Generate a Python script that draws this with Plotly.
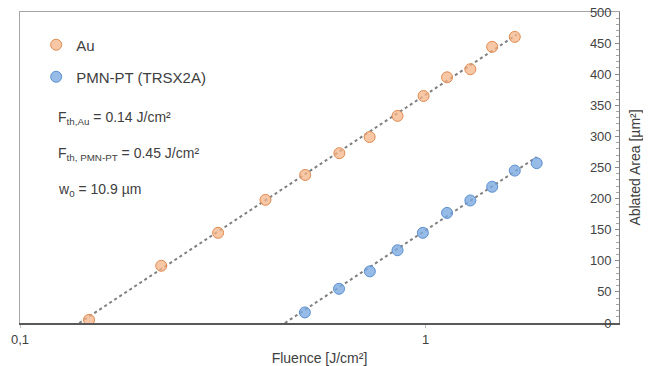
import numpy as np
import plotly.graph_objects as go

# Data
fluence_au = [0.148, 0.223, 0.308, 0.403, 0.505, 0.613, 0.728, 0.853, 0.989, 1.13, 1.29, 1.46, 1.66]
area_au = [5, 92, 145, 198, 238, 273, 299, 333, 365, 395, 408, 444, 460]
fluence_pmn = [0.504, 0.612, 0.729, 0.853, 0.985, 1.13, 1.29, 1.46, 1.66, 1.88]
area_pmn = [17, 55, 83, 117, 145, 177, 197, 219, 245, 257]

fth_au = 0.14
fth_pmn = 0.45
w0 = 10.9
xtick_vals = [0.1, 1]
xtick_text = ["0,1", "1"]

def fit_line(fth, fmax):
    f = np.geomspace(fth, fmax, 30)
    return f, np.pi * w0 ** 2 / 2 * np.log(f / fth)

FONT = "Liberation Sans, Arial, sans-serif"
TXT = "#404040"

fig = go.Figure()
fx, fy = fit_line(fth_au, 1.68)
fig.add_trace(go.Scatter(x=fx, y=fy, mode="lines", showlegend=False,
                         line=dict(color="#7f7f7f", width=2, dash="dot"), hoverinfo="skip"))
fx, fy = fit_line(fth_pmn, 1.88)
fig.add_trace(go.Scatter(x=fx, y=fy, mode="lines", showlegend=False,
                         line=dict(color="#7f7f7f", width=2, dash="dot"), hoverinfo="skip"))

fig.add_trace(go.Scatter(x=fluence_au, y=area_au, mode="markers", name="Au",
                         marker=dict(size=11, color="rgba(245,180,135,0.75)",
                                     line=dict(color="#E08A50", width=1)),
                         legend="legend"))
fig.add_trace(go.Scatter(x=fluence_pmn, y=area_pmn, mode="markers", name="PMN-PT (TRSX2A)",
                         marker=dict(size=11, color="rgba(125,170,225,0.8)",
                                     line=dict(color="#5B8FD0", width=1)),
                         legend="legend2"))

ann_font = dict(family=FONT, size=14, color=TXT)
fig.add_annotation(xref="paper", yref="paper", x=0.06, y=0.658, xanchor="left", yanchor="middle",
                   text="F<sub>th,Au</sub> = 0.14 J/cm²", showarrow=False, font=ann_font)
fig.add_annotation(xref="paper", yref="paper", x=0.06, y=0.544, xanchor="left", yanchor="middle",
                   text="F<sub>th, PMN-PT</sub> = 0.45 J/cm²", showarrow=False, font=ann_font)
fig.add_annotation(xref="paper", yref="paper", x=0.06, y=0.427, xanchor="left", yanchor="middle",
                   text="w<sub>0</sub> = 10.9 µm", showarrow=False, font=ann_font)

leg_common = dict(xanchor="left", yanchor="middle", bgcolor="rgba(0,0,0,0)",
                  font=dict(family=FONT, size=15, color=TXT))
# the page body adds an 8 px offset; figure size and margins compensate for it
fig.update_layout(
    width=643, height=358,
    margin=dict(l=12, r=32, t=4, b=43),
    paper_bgcolor="white", plot_bgcolor="white",
    font=dict(family=FONT, size=13, color=TXT),
    legend=dict(x=0.027, y=0.894, **leg_common),
    legend2=dict(x=0.027, y=0.791, **leg_common),
    xaxis=dict(type="log", range=[np.log10(0.1), np.log10(3)],
               tickvals=xtick_vals, ticktext=xtick_text,
               ticks="outside", ticklen=3, tickcolor="#bfbfbf",
               showline=True, linecolor="#595959", linewidth=2, mirror=False,
               showgrid=False, zeroline=False, automargin=False,
               title=dict(text="Fluence [J/cm²]", font=dict(size=14), standoff=8),
               tickfont=dict(size=13)),
    xaxis2=dict(overlaying="x", side="top", showline=True, linecolor="#a6a6a6", linewidth=1,
                showticklabels=False, ticks="", showgrid=False, zeroline=False, automargin=False),
    yaxis=dict(side="right", range=[0, 500], dtick=50,
               ticklabelposition="inside", ticklabeloverflow="allow", ticklabelstandoff=3,
               ticks="inside", ticklen=4, tickcolor="#8c8c8c",
               minor=dict(dtick=10, ticks="inside", ticklen=3, tickcolor="#a6a6a6", showgrid=False),
               showline=True, linecolor="#808080", linewidth=1,
               showgrid=False, zeroline=False, automargin=False,
               title=dict(text="Ablated Area [µm²]", font=dict(size=14), standoff=19),
               tickfont=dict(size=13)),
    yaxis2=dict(overlaying="y", side="left", showline=True, linecolor="#a6a6a6", linewidth=1,
                showticklabels=False, ticks="", showgrid=False, zeroline=False, range=[0, 500],
                automargin=False),
)
# invisible trace to activate the frame axes (top and left)
fig.add_trace(go.Scatter(x=[None], y=[None], xaxis="x2", yaxis="y2", showlegend=False, hoverinfo="skip"))

fig.write_html("out.html")
